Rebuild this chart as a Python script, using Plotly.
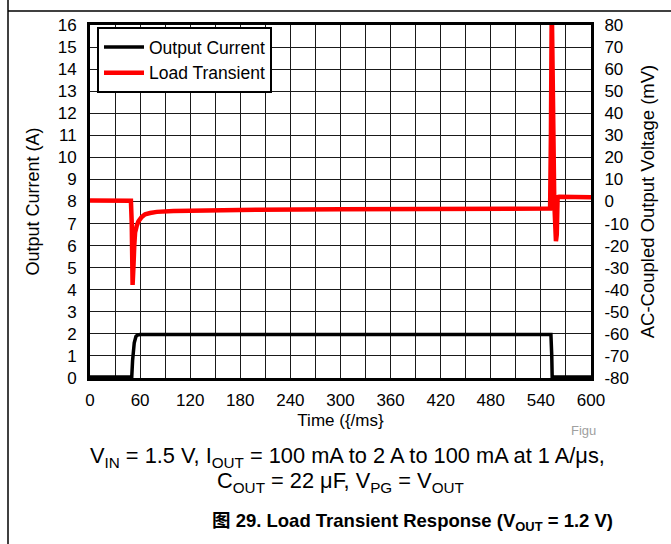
import plotly.graph_objects as go

# ---- data ----
current_t = [0, 50, 51, 53, 55, 57, 60, 150, 300, 450, 552, 553, 553.5, 600]
current_a = [0.05, 0.05, 0.8, 1.6, 1.88, 1.95, 1.97, 1.98, 1.97, 1.97, 1.97, 1.0, 0.05, 0.05]

volt_t = [0, 20, 40, 49, 50, 51, 52, 53, 54, 56, 58, 62, 66, 72, 80, 100, 144, 200, 300, 400,
          480, 540, 551, 552, 553, 554, 556, 558, 559, 560, 562, 600]
volt_mv = [0.5, 0.3, 0.4, 0.3, -10, -37.8, -30, -20, -14, -11, -9, -7, -5.8, -5.2, -4.7, -4.3,
           -3.9, -3.7, -3.5, -3.4, -3.3, -3.3, -3.2, 30, 90, 60, 0, -18, -15, 2, 2.2, 1.9]

x_ticks = list(range(0, 601, 30))
x_labels = [str(v) if v % 60 == 0 else "" for v in x_ticks]
y_ticks = list(range(0, 17))
y2_ticks = list(range(-80, 81, 10))
y2_labels = [str(v) for v in y2_ticks]  # plain hyphen minus

FONT = "Liberation Sans, Arial, Noto Sans CJK SC, sans-serif"

fig = go.Figure()
fig.add_trace(go.Scatter(x=current_t, y=current_a, mode="lines", name="Output Current",
                         line=dict(color="black", width=3.5)))
fig.add_trace(go.Scatter(x=volt_t, y=volt_mv, mode="lines", name="Load Transient",
                         yaxis="y2", line=dict(color="#ff0000", width=4.5)))

L, R, T, B = 90, 80, 25, 166
W, H = 671, 544
pw, ph = W - L - R, H - T - B


def px(x):
    return (x - L) / pw


def py(y):
    return (H - B - y) / ph


grid = "#1a1a1a"
fig.update_layout(
    width=W, height=H,
    margin=dict(l=L, r=R, t=T, b=B, autoexpand=False),
    paper_bgcolor="white", plot_bgcolor="white",
    font=dict(family=FONT, size=17, color="black"),
    showlegend=True,
    legend=dict(x=px(97), y=py(27), xanchor="left", yanchor="top",
                bgcolor="white", bordercolor="black", borderwidth=2,
                font=dict(size=17.5), tracegroupgap=0, itemwidth=40),
    xaxis=dict(range=[0, 600], tickvals=x_ticks, ticktext=x_labels,
               showgrid=True, gridcolor=grid, gridwidth=1,
               showline=True, linecolor="black", linewidth=3, mirror=True,
               ticks="", zeroline=False, ticklabelstandoff=5, automargin=False,
               title=dict(text="Time ({/ms}", standoff=5, font=dict(size=17))),
    yaxis=dict(range=[0, 16], tickvals=y_ticks,
               showgrid=True, gridcolor=grid, gridwidth=1,
               showline=True, linecolor="black", linewidth=3,
               ticks="", zeroline=False, ticklabelstandoff=7, automargin=False,
               title=dict(text="Output Current (A)", standoff=14, font=dict(size=18))),
    yaxis2=dict(range=[-80, 80], tickvals=y2_ticks, ticktext=y2_labels,
                overlaying="y", side="right",
                showgrid=False, showline=True, linecolor="black", linewidth=3,
                ticks="", zeroline=False, ticklabelstandoff=7, automargin=False,
                title=dict(text="AC-Coupled Output Voltage (mV)", standoff=14,
                           font=dict(size=18.5))),
)

# page frame lines
fig.add_shape(type="line", xref="paper", yref="paper", x0=px(8), x1=px(W + 5),
              y0=py(11), y1=py(11), line=dict(color="black", width=1.5))
fig.add_shape(type="line", xref="paper", yref="paper", x0=px(8), x1=px(8),
              y0=py(-5), y1=py(H + 5), line=dict(color="black", width=1.5))

ann = dict(xref="paper", yref="paper", showarrow=False, xanchor="center", yanchor="middle")
fig.add_annotation(x=px(583), y=py(430), text="Figu",
                   font=dict(size=13, color="#a0a0a0"), **ann)
fig.add_annotation(x=px(347), y=py(457),
                   text="V<sub>IN</sub> = 1.5 V, I<sub>OUT</sub> = 100 mA to 2 A to 100 mA at 1 A/μs,",
                   font=dict(size=21.8), **ann)
fig.add_annotation(x=px(340), y=py(482),
                   text="C<sub>OUT</sub> = 22 μF, V<sub>PG</sub> = V<sub>OUT</sub>",
                   font=dict(size=21.8), **ann)
fig.add_annotation(x=px(412), y=py(522),
                   text="<b>图 29. Load Transient Response (V<sub>OUT</sub> = 1.2 V)</b>",
                   font=dict(size=18.5), **ann)

fig.write_html("out.html", post_script="document.body.style.margin='0px';",
               config={"displayModeBar": False})
